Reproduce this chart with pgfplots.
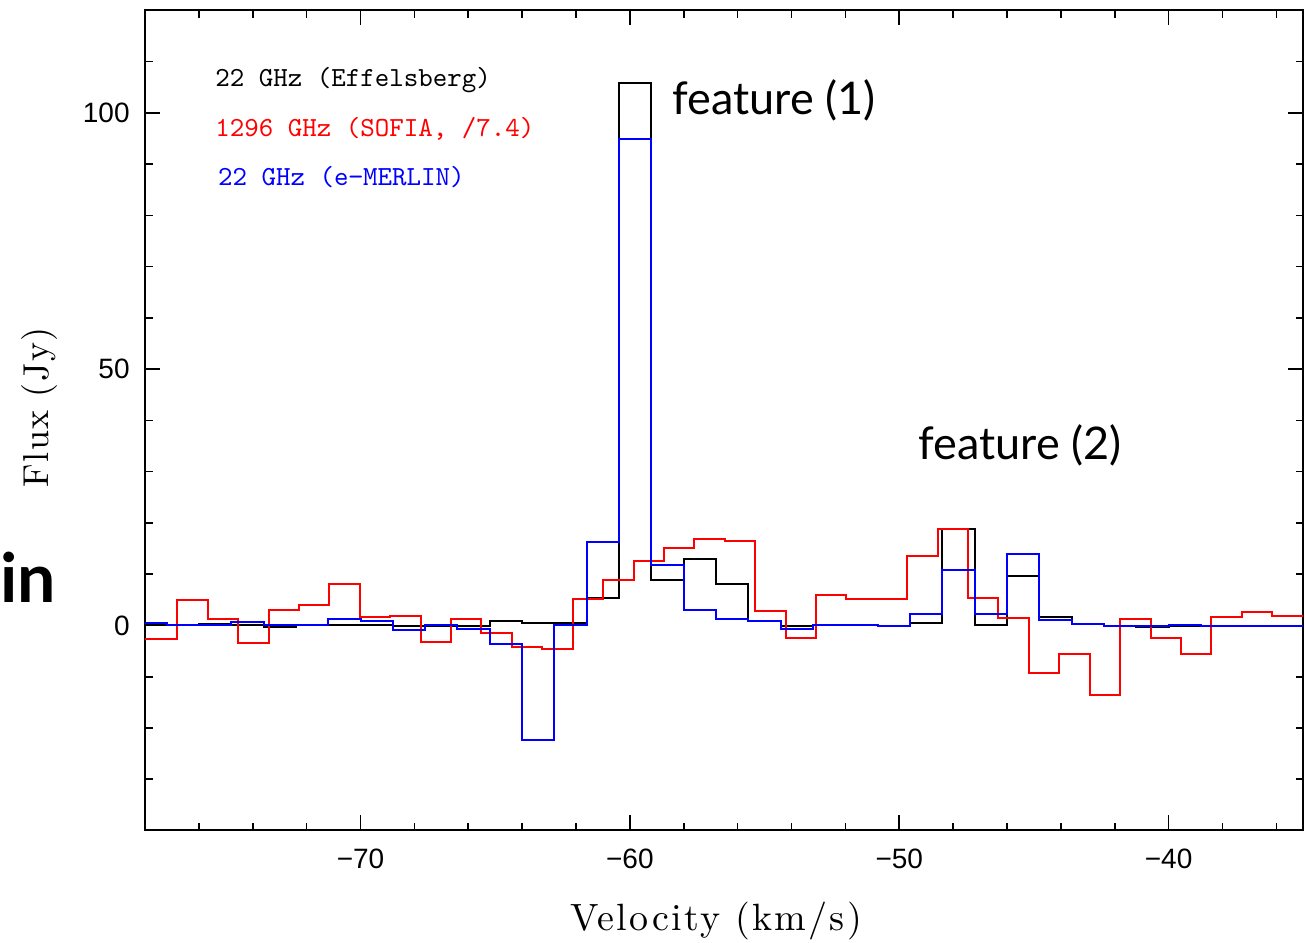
\documentclass[border=0pt]{standalone}
\usepackage{fontspec}
\setmainfont{Latin Modern Roman}
\newfontfamily\ticksf{Liberation Sans}
\newfontfamily\legfont{lmmono10-regular.otf}
\newfontfamily\featfont{Lato}
\newfontfamily\xlblfont{lmroman10-regular.otf}[LetterSpace=6]
\newfontfamily\ylblfont{lmroman10-regular.otf}[LetterSpace=4]
\usepackage{pgfplots}
\pgfplotsset{compat=1.18}
\usepackage{pgfplotstable}

% 22 GHz Effelsberg (channel left edges)
\pgfplotstableread{
v f
-78.40 0.0
-77.20 0.0
-76.00 0.2
-74.80 0.1
-73.60 -0.4
-72.40 0.0
-71.20 0.1
-70.00 0.1
-68.80 -0.2
-67.60 -0.1
-66.40 -0.1
-65.20 0.9
-64.00 0.5
-62.80 0.5
-61.60 5.3
-60.40 105.9
-59.20 8.9
-58.00 12.9
-56.80 8.0
-55.60 0.9
-54.40 -0.1
-53.20 0.1
-52.00 0.0
-50.80 -0.2
-49.60 0.5
-48.40 18.8
-47.20 0.1
-46.00 9.7
-44.80 1.6
-43.60 0.2
-42.40 -0.1
-41.20 -0.4
-40.00 -0.1
-38.80 -0.1
-37.60 -0.2
-36.40 -0.2
-35.20 -0.2
-34.00 -0.2
}\effels

% 1296 GHz SOFIA /7.4
\pgfplotstableread{
v f
-78.00 -2.6
-76.80 5.0
-75.67 1.2
-74.54 -3.5
-73.41 3.0
-72.28 3.9
-71.16 8.1
-70.03 1.7
-68.90 1.9
-67.77 -3.3
-66.64 1.2
-65.51 -1.5
-64.38 -4.3
-63.25 -4.6
-62.12 5.1
-60.99 8.9
-59.86 12.5
-58.73 15.1
-57.61 16.8
-56.48 16.5
-55.35 2.8
-54.22 -2.5
-53.09 6.0
-51.96 5.1
-50.83 5.2
-49.70 13.6
-48.57 18.8
-47.45 5.4
-46.32 1.4
-45.19 -9.2
-44.06 -5.6
-42.93 -13.6
-41.80 1.2
-40.67 -2.4
-39.54 -5.6
-38.41 1.6
-37.29 2.6
-36.16 1.9
-35.03 1.9
-33.90 1.9
}\sofia

% 22 GHz e-MERLIN
\pgfplotstableread{
v f
-78.40 0.5
-77.20 0.0
-76.00 0.0
-74.80 0.7
-73.60 0.0
-72.40 0.0
-71.20 1.2
-70.00 0.9
-68.80 -0.9
-67.60 0.1
-66.40 -0.6
-65.20 -3.6
-64.00 -22.3
-62.80 0.1
-61.60 16.2
-60.40 94.9
-59.20 11.8
-58.00 3.1
-56.80 1.3
-55.60 0.8
-54.40 -0.7
-53.20 0.1
-52.00 0.0
-50.80 -0.2
-49.60 2.2
-48.40 10.8
-47.20 2.2
-46.00 13.9
-44.80 1.1
-43.60 0.2
-42.40 -0.1
-41.20 -0.1
-40.00 0.1
-38.80 -0.1
-37.60 -0.1
-36.40 -0.1
-35.20 -0.1
-34.00 -0.1
}\merlin

\begin{document}
\begin{tikzpicture}
\begin{axis}[
  scale only axis, width=579pt, height=410pt,
  xmin=-78, xmax=-35, ymin=-40, ymax=120,
  xtick={-70,-60,-50,-40}, xticklabels={−70,−60,−50,−40},
  ytick={0,50,100}, yticklabels={0,50,100},
  minor xtick={-76,-74,...,-36}, minor ytick={-30,-20,...,110},
  major tick length=7.5pt, minor tick length=3.8pt,
  tick style={line width=0.8pt, black},
  axis line style={line width=1pt},
  ticklabel style={font=\ticksf\fontsize{14}{16}\selectfont},
  xticklabel style={anchor=north, inner sep=0pt, yshift=-9pt},
  yticklabel style={anchor=east, inner sep=0pt, xshift=-7.5pt},
  xlabel={Velocity (km/s)}, ylabel={Flux (Jy)},
  xlabel style={font=\xlblfont\fontsize{19}{22}\selectfont, at={(axis description cs:0.493,-0.110)}, anchor=center},
  ylabel style={font=\ylblfont\fontsize{18}{22}\selectfont, at={(axis description cs:-0.0907,0.516)}, anchor=center},
  clip mode=individual,
]
\addplot[const plot mark left, black, line width=1pt] table[x=v,y=f]{\effels};
\addplot[const plot mark left, red, line width=1pt] table[x=v,y=f]{\sofia};
\addplot[const plot mark left, blue, line width=1pt] table[x=v,y=f]{\merlin};

\node[anchor=west, inner sep=0pt, font=\legfont\fontsize{13.8}{16}\selectfont, text=black] at (axis cs:-75.4,106.4) {22 GHz (Effelsberg)};
\node[anchor=west, inner sep=0pt, font=\legfont\fontsize{13.8}{16}\selectfont, text=red] at (axis cs:-75.4,96.9) {1296 GHz (SOFIA, /7.4)};
\node[anchor=west, inner sep=0pt, font=\legfont\fontsize{13.8}{16}\selectfont, text=blue] at (axis cs:-75.3,87.5) {22 GHz (e−MERLIN)};

\node[anchor=west, inner sep=0pt, font=\featfont\fontsize{22.5}{26}\selectfont] at (axis cs:-58.43,102.5) {feature (1)};
\node[anchor=west, inner sep=0pt, font=\featfont\fontsize{22.5}{26}\selectfont] at (axis cs:-49.30,35.2) {feature (2)};
\node[anchor=west, inner sep=0pt, font=\featfont\bfseries\fontsize{34}{38}\selectfont] at (axis cs:-83.38,9.3) {in};
\end{axis}
\pgfresetboundingbox
\path[use as bounding box] (-72.5pt,-56pt) rectangle (579.85pt,415.15pt);
\end{tikzpicture}
\end{document}
